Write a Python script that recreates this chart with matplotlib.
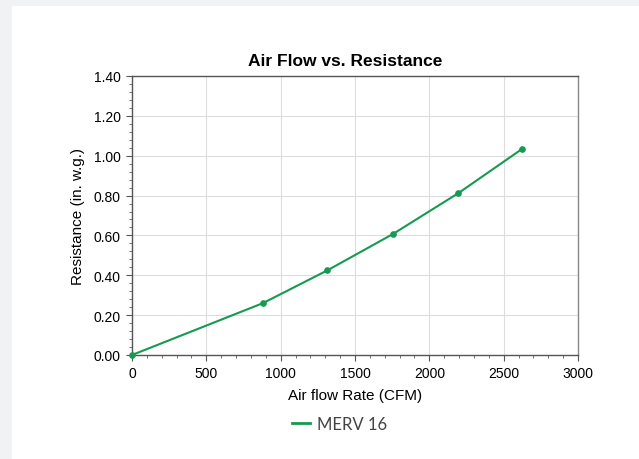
import matplotlib
matplotlib.use("Agg")
import matplotlib.pyplot as plt
from matplotlib.ticker import MultipleLocator, FormatStrFormatter
from matplotlib.patches import Rectangle

airflow = [0, 880, 1315, 1755, 2195, 2620]
resistance = [0.0, 0.26, 0.425, 0.607, 0.812, 1.032]
series_name = "MERV 16"
green = "#169a52"

plt.rcParams['font.family'] = ['Liberation Sans', 'DejaVu Sans']

fig = plt.figure(figsize=(6.39, 4.60), dpi=100)
fig.patch.set_facecolor("#f1f2f4")
# white card behind the chart
fig.patches.append(Rectangle((12 / 639, 0), 1, 1 - 7 / 460, transform=fig.transFigure,
                             facecolor="white", edgecolor="none", zorder=-10))

ax = fig.add_axes([132 / 639, 1 - 356 / 460, 446 / 639, 279 / 460])
ax.plot(airflow, resistance, color=green, lw=1.5, marker="o", ms=3.8, clip_on=False, zorder=3)

ax.set_xlim(0, 3000)
ax.set_ylim(0, 1.4)
ax.xaxis.set_major_locator(MultipleLocator(500))
ax.xaxis.set_minor_locator(MultipleLocator(100))
ax.yaxis.set_major_locator(MultipleLocator(0.2))
ax.yaxis.set_minor_locator(MultipleLocator(0.04))
ax.yaxis.set_major_formatter(FormatStrFormatter("%.2f"))
ax.grid(True, which="major", color="#dddddd", lw=0.8)
ax.set_axisbelow(True)
for s in ax.spines.values():
    s.set_color("#555555")
    s.set_linewidth(1)
ax.spines["right"].set_color("#888888")
ax.tick_params(which="major", direction="out", length=4, color="#555555", labelsize=10, pad=4)
ax.tick_params(which="minor", direction="out", length=2.5, color="#555555")

fig.text(345 / 639, 1 - 61 / 460, "Air Flow vs. Resistance", fontsize=12.5, fontweight="bold",
         ha="center", va="center")
ax.set_xlabel("Air flow Rate (CFM)", fontsize=11, labelpad=6)
ax.set_ylabel("Resistance (in. w.g.)", fontsize=11, labelpad=6)

fig.lines.append(plt.Line2D([292 / 639, 310 / 639], [1 - 424 / 460] * 2, transform=fig.transFigure,
                            color=green, lw=2))
fig.text(317 / 639, 1 - 425 / 460, series_name, fontsize=12, color="#444444",
         va="center", ha="left", family=["Lato", "DejaVu Sans"])

fig.savefig("out.png", dpi=100)
